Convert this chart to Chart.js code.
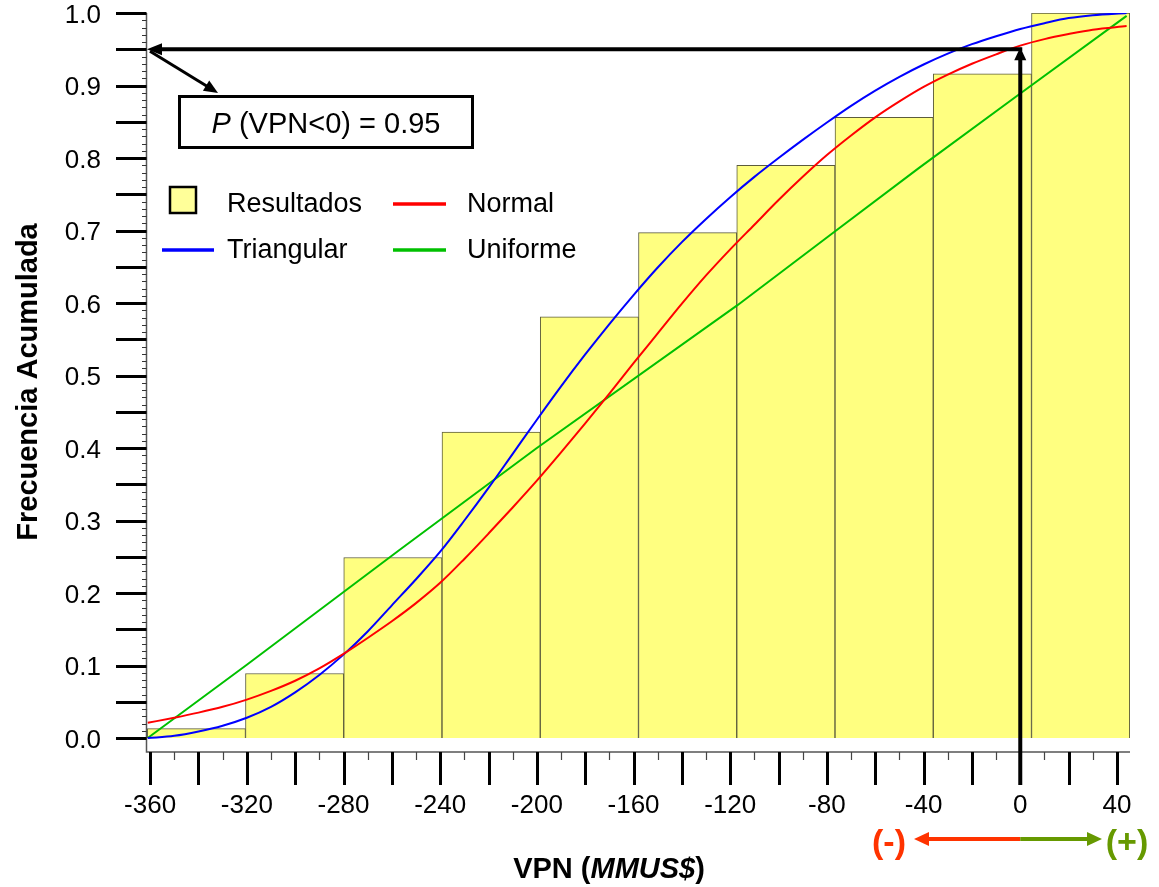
<!DOCTYPE html>
<html>
<head>
<meta charset="utf-8">
<title>Frecuencia Acumulada VPN</title>
<script src="https://cdn.jsdelivr.net/npm/chart.js@4.4.1/dist/chart.umd.min.js"></script>
<style>
  html, body { margin: 0; padding: 0; background: #ffffff; }
  #wrap { width: 1159px; height: 887px; position: relative; }
</style>
</head>
<body>
<div id="wrap"><canvas id="c" width="1159" height="887"></canvas></div>
<script>
// Histogram bins of the simulated VPN (MMUS$) and their cumulative frequency
const binEdges = [-361.2, -320.55, -279.9, -239.25, -198.6, -157.95, -117.3, -76.65, -36.0, 4.65, 45.3];
const cumFreq  = [0.013, 0.089, 0.249, 0.422, 0.581, 0.697, 0.790, 0.856, 0.916, 1.000];

// Fitted cumulative distributions
const curveX      = [-361, -350, -340, -330, -320, -310, -300, -290, -280, -270, -260, -250, -240, -230, -220, -210, -200, -190, -180, -170, -160, -150, -140, -130, -120, -110, -100, -90, -80, -70, -60, -50, -40, -30, -20, -10, 0, 10, 20, 30, 44];
const triangularY = [0.000, 0.003, 0.009, 0.017, 0.028, 0.043, 0.063, 0.087, 0.115, 0.147, 0.183, 0.219, 0.257, 0.300, 0.345, 0.392, 0.439, 0.485, 0.529, 0.571, 0.611, 0.649, 0.684, 0.716, 0.746, 0.774, 0.800, 0.825, 0.849, 0.872, 0.893, 0.912, 0.929, 0.944, 0.957, 0.968, 0.978, 0.986, 0.993, 0.997, 1.000];
const normalY     = [0.021, 0.028, 0.035, 0.043, 0.053, 0.065, 0.079, 0.096, 0.116, 0.138, 0.161, 0.186, 0.214, 0.247, 0.282, 0.318, 0.355, 0.394, 0.434, 0.475, 0.517, 0.558, 0.599, 0.638, 0.674, 0.708, 0.742, 0.774, 0.804, 0.831, 0.856, 0.878, 0.898, 0.915, 0.930, 0.943, 0.955, 0.964, 0.971, 0.977, 0.982];
const uniformX    = [-361, -320, -257, -200, -117, -77, -42, 0, 44];
const uniformY    = [0.000, 0.101, 0.259, 0.400, 0.597, 0.698, 0.786, 0.889, 0.996];

// Axis tick labels
const xTickLabels = [-360, -320, -280, -240, -200, -160, -120, -80, -40, 0, 40];
const yTickLabels = [0.0, 0.1, 0.2, 0.3, 0.4, 0.5, 0.6, 0.7, 0.8, 0.9, 1.0];

// Probability of a negative VPN
const pNeg = 0.95;

const FONT = '"Liberation Sans", Arial, Helvetica, sans-serif';

const barData = cumFreq.map((v, i) => ({ x: (binEdges[i] + binEdges[i + 1]) / 2, y: v }));
const toPts = (xs, ys) => xs.map((v, i) => ({ x: v, y: ys[i] }));

// Axes, legend, annotation and sign indicator
const decor = {
  id: 'decor',
  afterDraw(chart) {
    const { ctx, chartArea: ca, scales: { x, y } } = chart;
    ctx.save();

    // axis lines
    ctx.strokeStyle = '#555555';
    ctx.lineWidth = 1.5;
    ctx.beginPath();
    ctx.moveTo(ca.left - 0.5, y.getPixelForValue(1));
    ctx.lineTo(ca.left - 0.5, ca.bottom);
    ctx.lineTo(ca.right, ca.bottom);
    ctx.stroke();

    // y ticks: major every 0.05, minor every 0.01
    for (let i = 0; i <= 100; i++) {
      const py = Math.round(y.getPixelForValue(i / 100)) + 0.5;
      ctx.beginPath();
      if (i % 5 === 0) {
        ctx.strokeStyle = '#000000'; ctx.lineWidth = 3;
        ctx.moveTo(116, py); ctx.lineTo(ca.left - 0.5, py);
      } else {
        ctx.strokeStyle = '#333333'; ctx.lineWidth = 1;
        ctx.moveTo(ca.left - 5, py); ctx.lineTo(ca.left - 0.5, py);
      }
      ctx.stroke();
    }
    // y tick labels
    ctx.fillStyle = '#000000';
    ctx.font = '26px ' + FONT;
    ctx.textAlign = 'right';
    ctx.textBaseline = 'alphabetic';
    yTickLabels.forEach(v => {
      ctx.fillText(v.toFixed(1), 101, y.getPixelForValue(v) + 9.5);
    });

    // x ticks: major every 20, minor every 10
    for (let v = -360; v <= 40; v += 10) {
      const px = Math.round(x.getPixelForValue(v)) + 0.5;
      ctx.beginPath();
      if (v % 20 === 0) {
        ctx.strokeStyle = '#000000'; ctx.lineWidth = 3;
        ctx.moveTo(px, ca.bottom); ctx.lineTo(px, ca.bottom + 33);
      } else {
        ctx.strokeStyle = '#444444'; ctx.lineWidth = 1.2;
        ctx.moveTo(px, ca.bottom); ctx.lineTo(px, ca.bottom + 8);
      }
      ctx.stroke();
    }
    // x tick labels
    ctx.textAlign = 'center';
    xTickLabels.forEach(v => {
      ctx.fillText(String(v), x.getPixelForValue(v), 813);
    });

    // axis titles
    ctx.font = 'bold 29px ' + FONT;
    ctx.save();
    ctx.translate(37, 382);
    ctx.rotate(-Math.PI / 2);
    ctx.textAlign = 'center';
    ctx.fillText('Frecuencia Acumulada', 0, 0);
    ctx.restore();

    const t1 = 'VPN (', t2 = 'MMUS$', t3 = ')';
    ctx.font = 'bold 29px ' + FONT;
    const w1 = ctx.measureText(t1).width, w3 = ctx.measureText(t3).width;
    ctx.font = 'italic bold 29px ' + FONT;
    const w2 = ctx.measureText(t2).width;
    let tx = 609 - (w1 + w2 + w3) / 2;
    ctx.textAlign = 'left';
    ctx.font = 'bold 29px ' + FONT;
    ctx.fillText(t1, tx, 878);
    ctx.font = 'italic bold 29px ' + FONT;
    ctx.fillText(t2, tx + w1, 878);
    ctx.font = 'bold 29px ' + FONT;
    ctx.fillText(t3, tx + w1 + w2, 878);

    // legend
    ctx.fillStyle = '#ffff99';
    ctx.fillRect(170, 187, 26, 26);
    ctx.strokeStyle = '#000000'; ctx.lineWidth = 2.5;
    ctx.strokeRect(170, 187, 26, 26);
    const legendLine = (x0, x1, yy, col) => {
      ctx.strokeStyle = col; ctx.lineWidth = 3.5;
      ctx.beginPath(); ctx.moveTo(x0, yy); ctx.lineTo(x1, yy); ctx.stroke();
    };
    legendLine(393, 446, 204, '#ff0000');
    legendLine(162, 214, 250, '#0000ff');
    legendLine(393, 446, 250, '#00c000');
    ctx.fillStyle = '#000000';
    ctx.font = '27px ' + FONT;
    ctx.textAlign = 'left';
    ctx.fillText('Resultados', 227, 212);
    ctx.fillText('Normal', 467, 212);
    ctx.fillText('Triangular', 227, 258);
    ctx.fillText('Uniforme', 467, 258);

    // arrow helper
    const head = (tx, ty, ang, len, half, col) => {
      ctx.fillStyle = col;
      ctx.beginPath();
      ctx.moveTo(tx, ty);
      ctx.lineTo(tx - len * Math.cos(ang) + half * Math.sin(ang), ty - len * Math.sin(ang) - half * Math.cos(ang));
      ctx.lineTo(tx - len * Math.cos(ang) - half * Math.sin(ang), ty - len * Math.sin(ang) + half * Math.cos(ang));
      ctx.closePath();
      ctx.fill();
    };

    // P(VPN<0) guide arrows
    const x0 = x.getPixelForValue(0);
    const yp = y.getPixelForValue(pNeg);
    ctx.strokeStyle = '#000000'; ctx.lineWidth = 4; ctx.lineCap = 'butt';
    ctx.beginPath(); ctx.moveTo(x0 + 2, yp); ctx.lineTo(ca.left + 12, yp); ctx.stroke();
    head(ca.left, yp, Math.PI, 15, 6, '#000000');
    ctx.beginPath(); ctx.moveTo(x0, ca.bottom + 33); ctx.lineTo(x0, yp + 10); ctx.stroke();
    head(x0, yp - 2, -Math.PI / 2, 13, 6, '#000000');

    // annotation box
    const bx = 178, by = 95, bw = 296, bh = 54;
    ctx.fillStyle = '#ffffff';
    ctx.fillRect(bx, by, bw, bh);
    ctx.strokeStyle = '#000000'; ctx.lineWidth = 3;
    ctx.strokeRect(bx + 1.5, by + 1.5, bw - 3, bh - 3);
    const a1 = 'P', a2 = ' (VPN<0) = ' + pNeg.toFixed(2);
    ctx.font = 'italic 29px ' + FONT;
    const wa1 = ctx.measureText(a1).width;
    ctx.font = '29px ' + FONT;
    const wa2 = ctx.measureText(a2).width;
    const ax = bx + bw / 2 - (wa1 + wa2) / 2;
    ctx.fillStyle = '#000000';
    ctx.font = 'italic 29px ' + FONT;
    ctx.fillText(a1, ax, 133);
    ctx.font = '29px ' + FONT;
    ctx.fillText(a2, ax + wa1, 133);

    // pointer from the probability level to the box
    const sx = ca.left + 3, sy = yp + 2, ex = 218, ey = 93;
    const ang = Math.atan2(ey - sy, ex - sx);
    ctx.strokeStyle = '#000000'; ctx.lineWidth = 3;
    ctx.beginPath(); ctx.moveTo(sx, sy); ctx.lineTo(ex - 10 * Math.cos(ang), ey - 10 * Math.sin(ang)); ctx.stroke();
    head(ex, ey, ang, 14, 6, '#000000');

    // sign indicator below the axis
    const red = '#ff3300', green = '#669900';
    const ly = 839;
    ctx.lineWidth = 4;
    ctx.strokeStyle = red;
    ctx.beginPath(); ctx.moveTo(x0, ly); ctx.lineTo(926, ly); ctx.stroke();
    head(914, ly, Math.PI, 15, 7, red);
    ctx.strokeStyle = green;
    ctx.beginPath(); ctx.moveTo(x0, ly); ctx.lineTo(1090, ly); ctx.stroke();
    head(1102, ly, 0, 15, 7, green);
    ctx.font = 'bold 34px ' + FONT;
    ctx.textAlign = 'center';
    ctx.fillStyle = red;
    ctx.fillText('(-)', 889, 853);
    ctx.fillStyle = green;
    ctx.fillText('(+)', 1127, 853);

    ctx.restore();
  }
};

new Chart(document.getElementById('c'), {
  type: 'bar',
  data: {
    datasets: [
      {
        type: 'line', label: 'Normal', data: toPts(curveX, normalY),
        borderColor: '#ff0000', borderWidth: 2, pointRadius: 0,
        cubicInterpolationMode: 'monotone', fill: false, order: 0
      },
      {
        type: 'line', label: 'Triangular', data: toPts(curveX, triangularY),
        borderColor: '#0000ff', borderWidth: 2, pointRadius: 0,
        cubicInterpolationMode: 'monotone', fill: false, order: 0
      },
      {
        type: 'line', label: 'Uniforme', data: toPts(uniformX, uniformY),
        borderColor: '#00c000', borderWidth: 2, pointRadius: 0,
        tension: 0, fill: false, order: 0
      },
      {
        type: 'bar', label: 'Resultados', data: barData,
        backgroundColor: '#ffff80', borderColor: '#5c5c3c', borderWidth: 1,
        barPercentage: 1.0, categoryPercentage: 1.0, order: 1
      }
    ]
  },
  options: {
    responsive: false,
    devicePixelRatio: 1,
    animation: false,
    events: [],
    layout: { padding: { left: 147, right: 29, top: 13, bottom: 135 } },
    plugins: { legend: { display: false }, tooltip: { enabled: false } },
    scales: {
      x: { type: 'linear', min: -361.3, max: 45.4, offset: false, display: false },
      y: { type: 'linear', min: -0.0193, max: 1.0, display: false }
    }
  },
  plugins: [decor]
});
</script>
</body>
</html>
